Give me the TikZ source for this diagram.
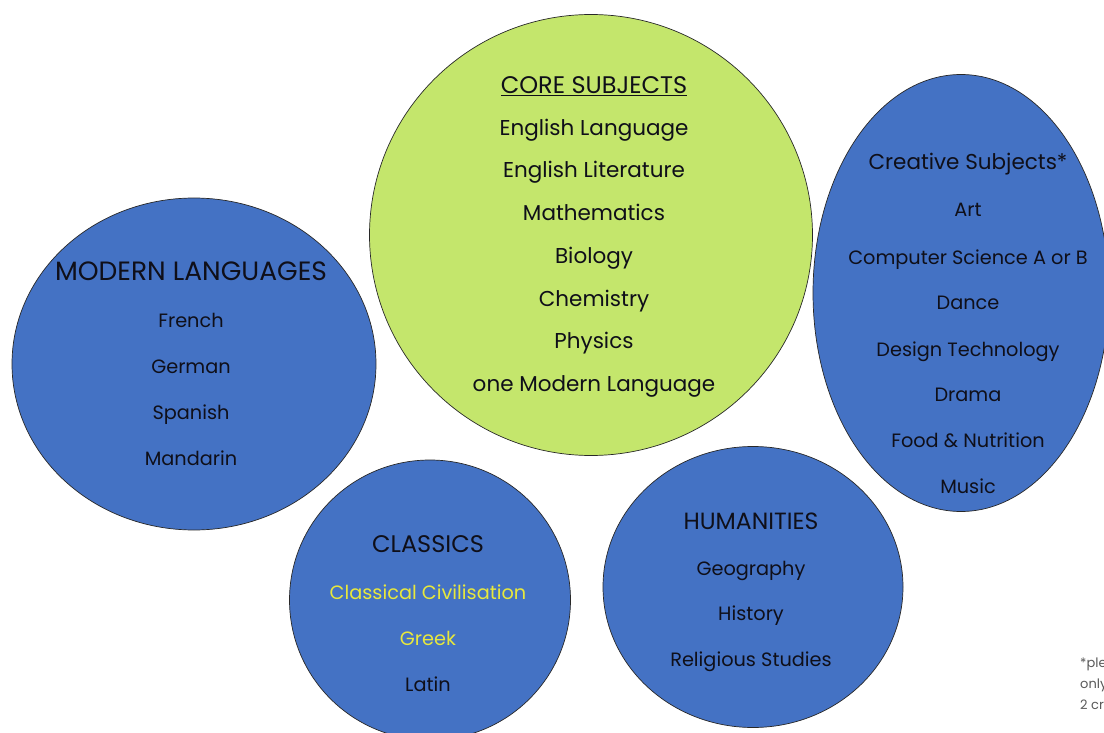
\documentclass[tikz,border=0pt]{standalone}
\usepackage{fontspec}
\setmainfont{Poppins}
\usetikzlibrary{shapes.geometric}
\definecolor{blobblue}{RGB}{68,114,196}
\definecolor{coregreen}{RGB}{196,230,108}
\definecolor{edgegray}{RGB}{40,40,40}
\definecolor{txtdark}{RGB}{15,15,25}
\definecolor{hiyellow}{RGB}{232,232,60}
\definecolor{notegray}{RGB}{90,90,90}
\tikzset{
  x=1pt, y=-1pt,
  blob/.style={ellipse, draw=edgegray, line width=0.7pt, fill=blobblue, inner sep=0pt},
  item/.style={text=txtdark, font=\fontsize{19.3}{21}\selectfont, inner sep=0pt, anchor=base},
  coreitem/.style={item, font=\fontsize{21.5}{23}\selectfont},
  head/.style={text=txtdark, font=\fontsize{24}{26}\selectfont, inner sep=0pt, anchor=base},
  hl/.style={item, text=hiyellow},
  note/.style={text=notegray, font=\fontsize{13}{14}\selectfont, inner sep=0pt, anchor=base west}
}
\begin{document}
\begin{tikzpicture}
\useasboundingbox (0,0) rectangle (1104,733);
\clip (0,0) rectangle (1104,733);
\fill[white] (0,0) rectangle (1104,733);
% blobs
\node[blob, minimum width=364pt, minimum height=332pt] (modern) at (194,364) {};
\node[blob, minimum width=296pt, minimum height=437pt] (creative) at (961,293) {};
\node[blob, minimum width=281pt, minimum height=280pt] (classics) at (430,600) {};
\node[blob, minimum width=300pt, minimum height=281pt] (human) at (753,587) {};
\node[blob, fill=coregreen, minimum width=443pt, minimum height=441pt] (core) at (591,235) {};
% core
\node[head] (c0) at (594,94) {\underline{CORE SUBJECTS}};
\node[coreitem] (c1) at (594,136) {English Language};
\node[coreitem] (c2) at (594,178) {English Literature};
\node[coreitem] (c3) at (594,221) {Mathematics};
\node[coreitem] (c4) at (594,263) {Biology};
\node[coreitem] (c5) at (594,306) {Chemistry};
\node[coreitem] (c6) at (594,348) {Physics};
\node[coreitem] (c7) at (594,391) {one Modern Language};
% modern
\node[head, font=\fontsize{26.5}{28}\selectfont] (m0) at (191,280) {MODERN LANGUAGES};
\node[item] (m1) at (191,327) {French};
\node[item] (m2) at (191,373) {German};
\node[item] (m3) at (191,419) {Spanish};
\node[item] (m4) at (191,465) {Mandarin};
% creative
\node[head, font=\fontsize{21.5}{23}\selectfont] (r0) at (968,170) {Creative Subjects*};
\node[item] (r1) at (968,217) {Art};
\node[item] (r2) at (968,264) {Computer Science A or B};
\node[item] (r3) at (968,309) {Dance};
\node[item] (r4) at (968,356) {Design Technology};
\node[item] (r5) at (968,401) {Drama};
\node[item] (r6) at (968,447) {Food \& Nutrition};
\node[item] (r7) at (968,493) {Music};
% classics
\node[head] (k0) at (428,552) {CLASSICS};
\node[hl] (k1) at (428,599) {Classical Civilisation};
\node[hl] (k2) at (428,645) {Greek};
\node[item] (k3) at (428,691) {Latin};
% humanities
\node[head, font=\fontsize{23.5}{25}\selectfont] (h0) at (751,529) {HUMANITIES};
\node[item] (h1) at (751,575) {Geography};
\node[item] (h2) at (751,620) {History};
\node[item] (h3) at (751,666) {Religious Studies};
% footnote (cut off at the page edge in the reference)
\node[note] (n1) at (1080,667) {*ple};
\node[note] (n2) at (1080,688) {only};
\node[note] (n3) at (1080,709) {2 cr};
\end{tikzpicture}
\end{document}
